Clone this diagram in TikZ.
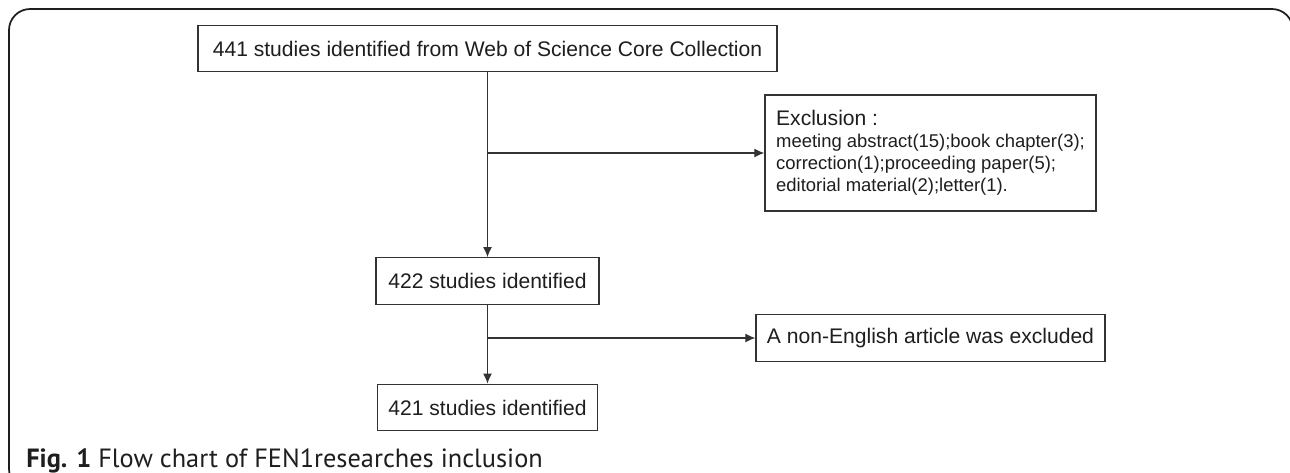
\documentclass[tikz,border=0pt]{standalone}
\usepackage{fontspec}
\usepackage{tikz}
\usepackage{xcolor}
\setmainfont{Liberation Sans}
\newfontfamily\capfont{PT Sans}
\usetikzlibrary{arrows.meta,positioning,calc}
\definecolor{edge}{HTML}{333333}
\definecolor{ink}{HTML}{1E1E1E}

\begin{document}
\begin{tikzpicture}[x=0.2mm,y=-0.2mm,
  box/.style={draw=edge,line width=0.8pt,fill=white,inner sep=0pt,text=ink,
              minimum height=9.3mm,font=\fontsize{12}{14}\selectfont},
  flow/.style={-{Latex[length=2mm,width=1.8mm]},edge,line width=0.6pt}]
\useasboundingbox (0,0) rectangle (1290,472);
% frame
\begin{scope}
  \clip (0,0) rectangle (1290,472);
  \draw[ink,line width=1pt,rounded corners=12] (9,9) rectangle (1293,490);
\end{scope}
% boxes
\node[box,minimum width=115.8mm] (src) at (487.5,48.5)
  {441 studies identified from Web of Science Core Collection};
\node[box,minimum width=44.6mm] (mid) at (487.5,281) {422 studies identified};
\node[box,minimum width=44mm] (fin) at (487.5,407.5) {421 studies identified};
\node[box,align=left,minimum width=66.2mm,minimum height=23.2mm,
  font=\fontsize{10.5}{12.5}\selectfont] (excl) at (930.5,153)
  {{\fontsize{12}{12.5}\selectfont Exclusion :}\\
   meeting abstract(15);book chapter(3);\\
   correction(1);proceeding paper(5);\\
   editorial material(2);letter(1).};
\node[box,minimum width=69.8mm] (lang) at (930.5,338) {A non-English article was excluded};
% connectors
\coordinate (j1) at (src.south |- excl);
\coordinate (j2) at (src.south |- lang);
\draw[flow] (src.south) -- (src.south |- mid.north);
\draw[flow] (j1) -- (excl);
\draw[flow] (mid) -- (fin);
\draw[flow] (j2) -- (lang);
% caption
\node[anchor=base west,inner sep=0pt,text=ink,font=\capfont\fontsize{15}{17}\selectfont] (cap) at (26,467)
  {\textbf{Fig. 1} Flow chart of FEN1researches inclusion};
\end{tikzpicture}
\end{document}
